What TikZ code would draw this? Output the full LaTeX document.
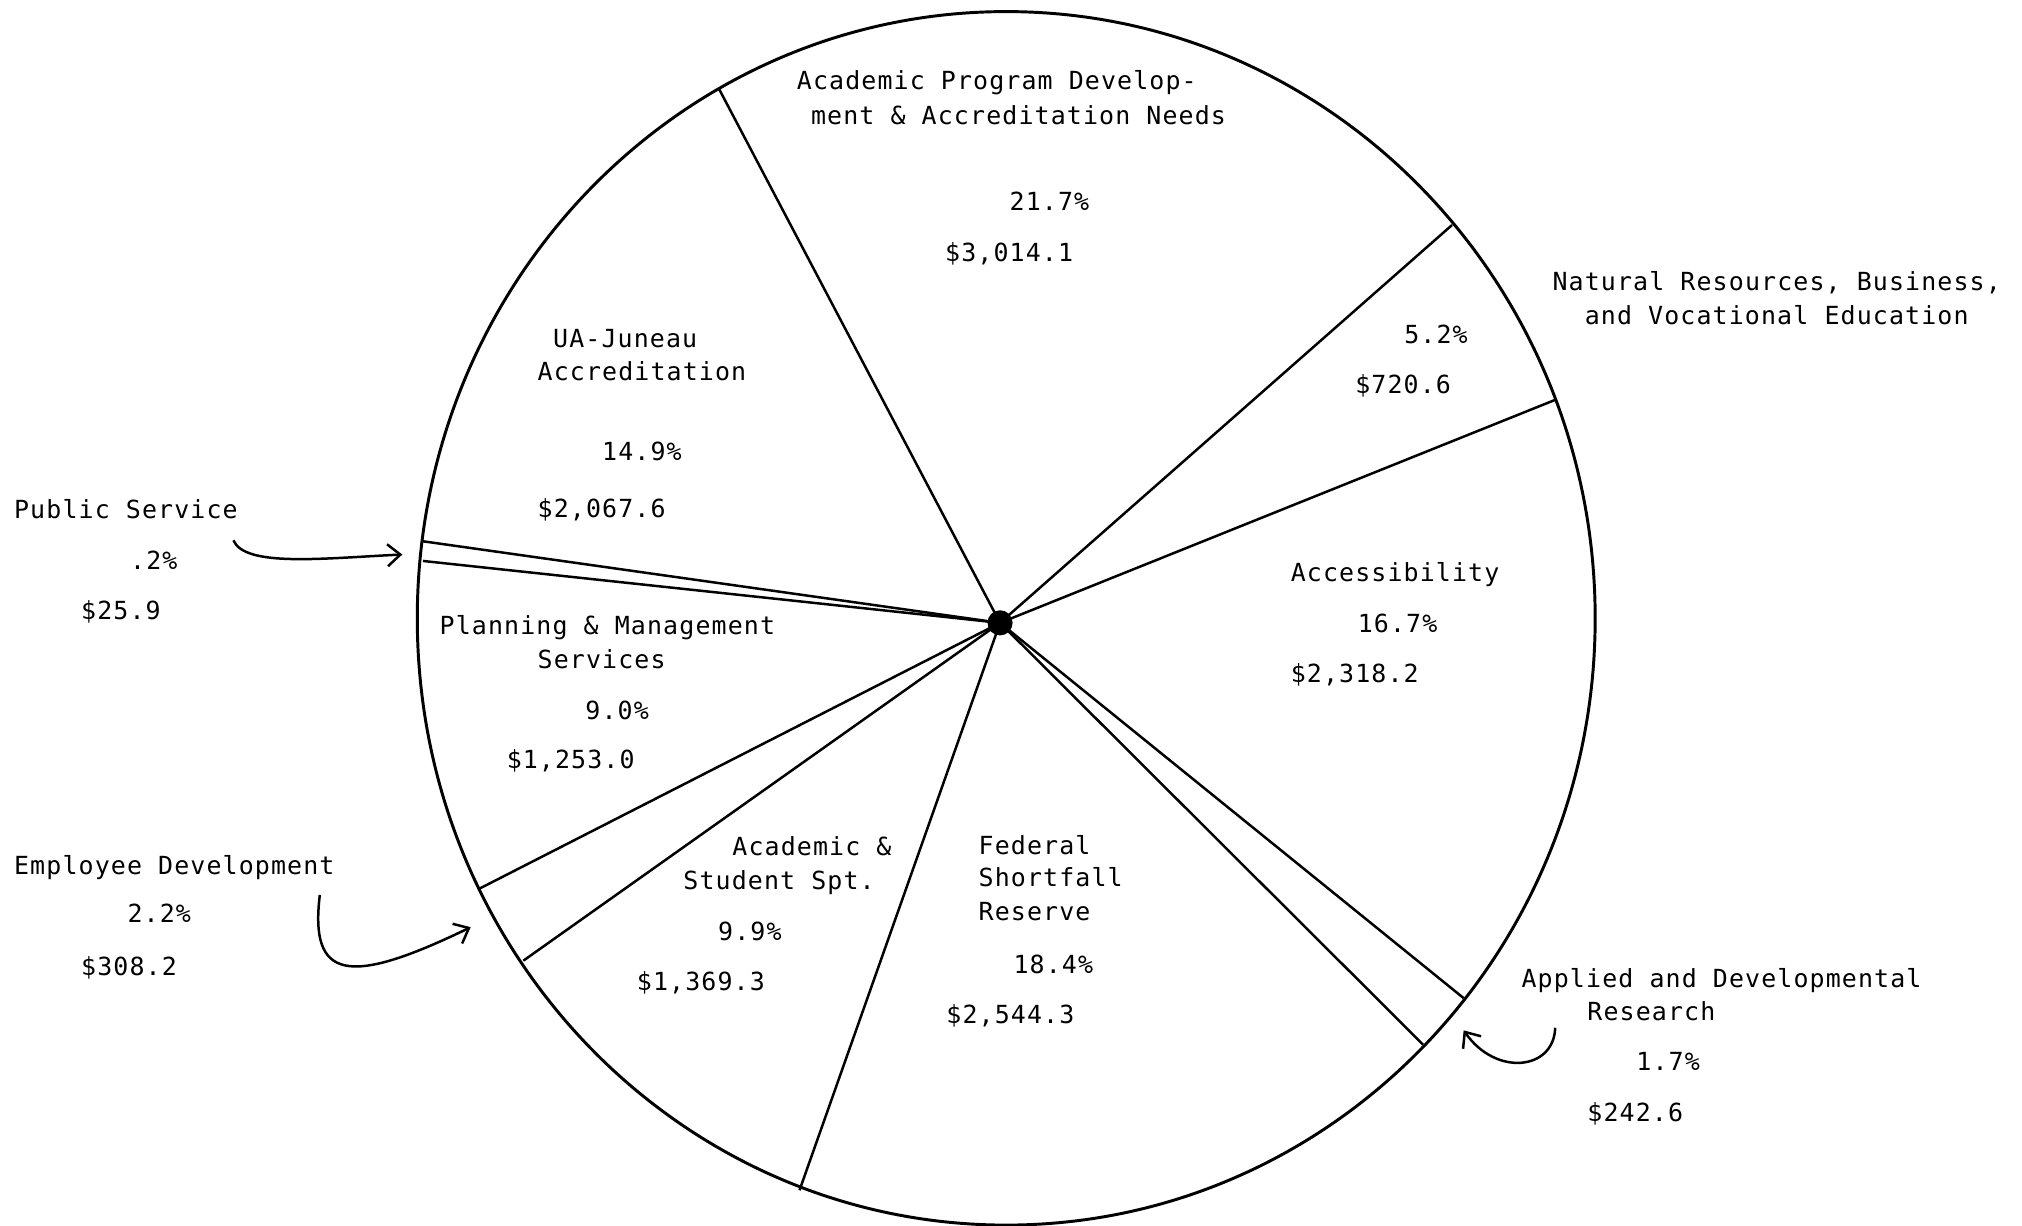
\documentclass[tikz,border=0pt]{standalone}
\usepackage{fontspec}
\newfontfamily\chartfont{DejaVu Sans Mono}[LetterSpace=4.5]
\usetikzlibrary{arrows.meta}

\begin{document}
\begin{tikzpicture}[x=0.2mm,y=-0.2mm,line width=1.1pt,
        lbl/.style={anchor=base west,inner sep=0pt,font=\chartfont\fontsize{11}{13}\selectfont},
        >={Straight Barb[length=2mm,width=3.4mm]}]
        \useasboundingbox (0,0) rectangle (1568,950.7);

        \draw [line width=1.3pt] (780.3,479.5) ellipse [x radius=91.34mm, y radius=94.1mm];
        \node [circle, fill=black, inner sep=0pt, minimum size=3.9mm] (hub) at (775.5,483) {};
        \foreach \x/\y in {557.6/69, 1126/174.5, 1206.7/309.8, 1135/774, 1103.5/810,
                620/923, 405.8/745, 372/689, 328/435, 327/419.6} {
                \draw (hub.center) -- (\x,\y);
        }

        \node [lbl] (acadprogA) at (617,69.5) {Academic Program Develop-};
        \node [lbl] (acadprogB) at (628,96.8) {ment \& Accreditation Needs};
        \node [lbl] (acadprogP) at (782,163.6) {21.7\%};
        \node [lbl] (acadprogD) at (732,202.4) {\$3,014.1};

        \node [lbl] (natresA) at (1203,225.4) {Natural Resources, Business,};
        \node [lbl] (natresB) at (1228,251.5) {and Vocational Education};
        \node [lbl] (natresP) at (1088,266.7) {5.2\%};
        \node [lbl] (natresD) at (1050,305.5) {\$720.6};

        \node [lbl] (juneauA) at (428,269.7) {UA-Juneau};
        \node [lbl] (juneauB) at (416,295.2) {Accreditation};
        \node [lbl] (juneauP) at (466,357) {14.9\%};
        \node [lbl] (juneauD) at (416,401.4) {\$2,067.6};

        \node [lbl] (publicA) at (10,402) {Public Service};
        \node [lbl] (publicP) at (100,441.5) {.2\%};
        \node [lbl] (publicD) at (62,480.3) {\$25.9};

        \node [lbl] (accessA) at (1000,450.6) {Accessibility};
        \node [lbl] (accessP) at (1052,490.6) {16.7\%};
        \node [lbl] (accessD) at (1000,529.5) {\$2,318.2};

        \node [lbl] (planA) at (340,492.4) {Planning \& Management};
        \node [lbl] (planB) at (416,518.5) {Services};
        \node [lbl] (planP) at (453,558) {9.0\%};
        \node [lbl] (planD) at (392,596.2) {\$1,253.0};

        \node [lbl] (employA) at (10,678) {Employee Development};
        \node [lbl] (employP) at (98,715.7) {2.2\%};
        \node [lbl] (employD) at (62,756.4) {\$308.2};

        \node [lbl] (studentA) at (567,663.6) {Academic \&};
        \node [lbl] (studentB) at (529,689.6) {Student Spt.};
        \node [lbl] (studentP) at (556,729) {9.9\%};
        \node [lbl] (studentD) at (493,768) {\$1,369.3};

        \node [lbl] (fedA) at (758,662.3) {Federal};
        \node [lbl] (fedB) at (758,687.8) {Shortfall};
        \node [lbl] (fedC) at (758,714) {Reserve};
        \node [lbl] (fedP) at (785,755.2) {18.4\%};
        \node [lbl] (fedD) at (733,793.4) {\$2,544.3};

        \node [lbl] (appliedA) at (1179,765.5) {Applied and Developmental};
        \node [lbl] (appliedB) at (1230,791.6) {Research};
        \node [lbl] (appliedP) at (1268,830.4) {1.7\%};
        \node [lbl] (appliedD) at (1230,869.9) {\$242.6};

        \coordinate (publicTail) at (181,419);
        \coordinate (publicTip) at (312,430);
        \coordinate (employTail) at (248,694);
        \coordinate (employTip) at (365,719);
        \coordinate (appliedTail) at (1206,797);
        \coordinate (appliedTip) at (1135,799);
        \draw [->] (publicTail) .. controls (190,440) and (250,433) .. (publicTip);
        \draw [->] (employTail) .. controls (240,760) and (270,765) .. (employTip);
        \draw [->] (appliedTail) .. controls (1205,830) and (1160,835) .. (appliedTip);

\end{tikzpicture}
\end{document}
